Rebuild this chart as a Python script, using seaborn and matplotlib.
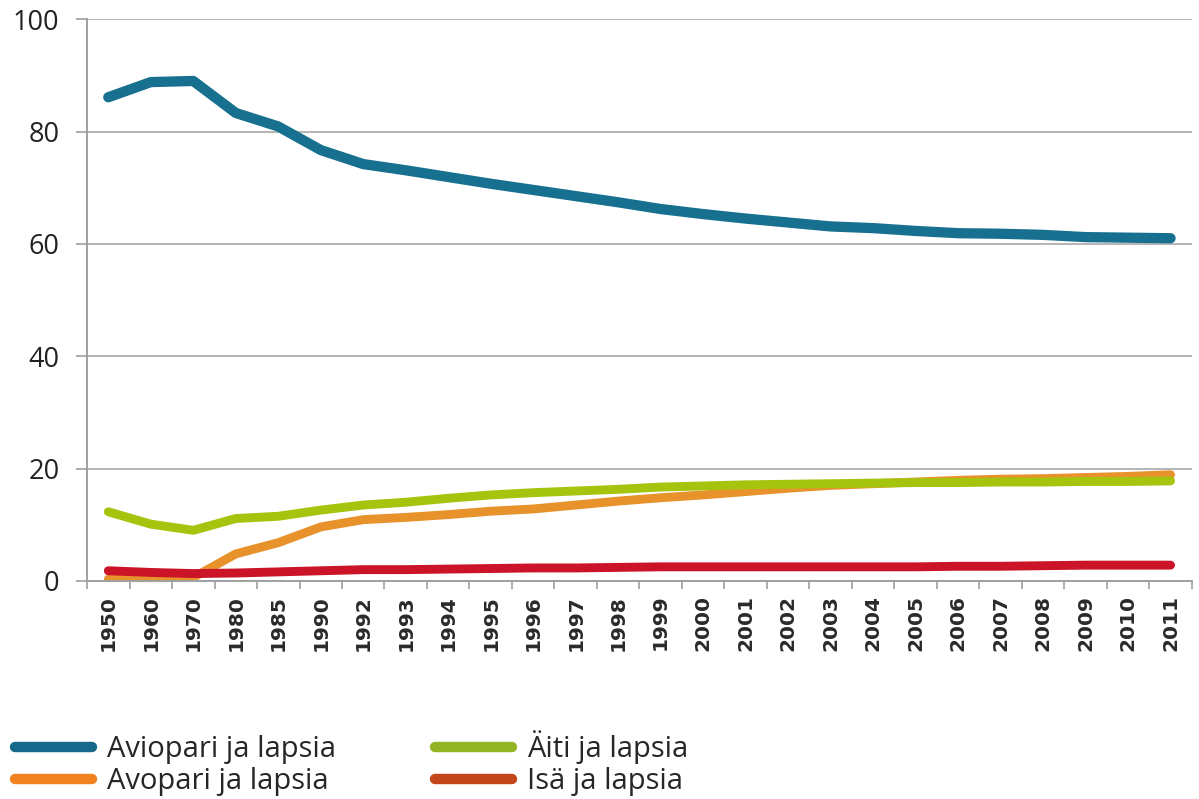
import matplotlib
matplotlib.use("Agg")
import matplotlib.pyplot as plt
import pandas as pd
import seaborn as sns
from matplotlib.lines import Line2D

# Categories (x axis, categorical years)
years = ["1950", "1960", "1970", "1980", "1985", "1990", "1992", "1993", "1994",
         "1995", "1996", "1997", "1998", "1999", "2000", "2001", "2002", "2003",
         "2004", "2005", "2006", "2007", "2008", "2009", "2010", "2011"]

# Series values (%)
aviopari = [86.1, 88.8, 89.0, 83.3, 80.9, 76.7, 74.2, 73.1, 71.9, 70.7, 69.6, 68.5, 67.4,
            66.2, 65.3, 64.5, 63.8, 63.1, 62.8, 62.3, 61.9, 61.8, 61.6, 61.2, 61.1, 61.0]
avopari = [0.3, 0.3, 0.6, 4.8, 6.8, 9.6, 10.9, 11.3, 11.8, 12.4, 12.8, 13.5, 14.2,
           14.8, 15.3, 15.9, 16.5, 17.0, 17.3, 17.6, 17.9, 18.1, 18.2, 18.4, 18.6, 18.9]
aiti = [12.3, 10.1, 9.0, 11.1, 11.5, 12.6, 13.5, 14.0, 14.7, 15.3, 15.7, 16.0, 16.3,
        16.7, 16.9, 17.1, 17.2, 17.3, 17.4, 17.5, 17.5, 17.6, 17.6, 17.7, 17.7, 17.8]
isa = [1.8, 1.5, 1.3, 1.4, 1.6, 1.8, 2.0, 2.0, 2.1, 2.2, 2.3, 2.3, 2.4,
       2.5, 2.5, 2.5, 2.5, 2.5, 2.5, 2.5, 2.6, 2.6, 2.7, 2.8, 2.8, 2.8]

series_names = ["Aviopari ja lapsia", "Avopari ja lapsia", "Äiti ja lapsia", "Isä ja lapsia"]
line_colors = ["#17708f", "#e8922c", "#a5c40e", "#cc1428"]
legend_colors = ["#17698c", "#f0831f", "#93b524", "#c2461a"]
y_ticks = [0, 20, 40, 60, 80, 100]

df = pd.DataFrame({
    "year": years * 4,
    "value": aviopari + avopari + aiti + isa,
    "series": [n for n in series_names for _ in years],
})

sns.set_theme(style="white")
plt.rcParams["font.family"] = ["Open Sans", "DejaVu Sans"]

fig = plt.figure(figsize=(11.99, 7.99), dpi=100)
ax = fig.add_axes([0.0726, 0.273, 0.9214, 0.703])

sns.lineplot(data=df, x="year", y="value", hue="series", hue_order=series_names,
             palette=dict(zip(series_names, line_colors)), sort=False,
             linewidth=6.4, legend=False, ax=ax)
for ln in ax.get_lines():
    ln.set_solid_capstyle("round")
ax.get_lines()[0].set_linewidth(7.4)

ax.set_ylim(0, 100)
ax.set_yticks(y_ticks)
ax.set_xlim(-0.4, 25.4)
ax.set_xlabel("")
ax.set_ylabel("")

ax.grid(axis="y", color="#b4b4b4", linewidth=1.4)
ax.set_axisbelow(True)
for side in ["top", "right"]:
    ax.spines[side].set_visible(False)
for side in ["left", "bottom"]:
    ax.spines[side].set_color("#a0a0a0")
    ax.spines[side].set_linewidth(1.4)

ax.tick_params(axis="y", length=8, width=1.2, color="#a0a0a0", labelsize=19.5,
               labelcolor="#222222", pad=12, left=True)
ax.set_xticks(range(len(years)), labels=years, rotation=90, fontfamily="DejaVu Sans",
              fontweight="bold", fontsize=14.5, color="#2a2a2a")
ax.tick_params(axis="x", which="major", length=0, pad=10)
ax.set_xticks([i + 0.5 for i in range(-1, len(years))], minor=True)
ax.tick_params(axis="x", which="minor", length=6, width=1.2, color="#a0a0a0", bottom=True)

handles = [Line2D([], [], color=c, linewidth=7.5, solid_capstyle="round") for c in legend_colors]
fig.legend(handles, series_names, loc="lower left", bbox_to_anchor=(0.010, 0.0),
           ncol=2, frameon=False, handlelength=2.65, handletextpad=0.5,
           columnspacing=3.4, labelspacing=0.1, borderaxespad=0, borderpad=0.1,
           prop={"family": "Open Sans", "size": 21})

fig.savefig("out.png", dpi=100, facecolor="white")
